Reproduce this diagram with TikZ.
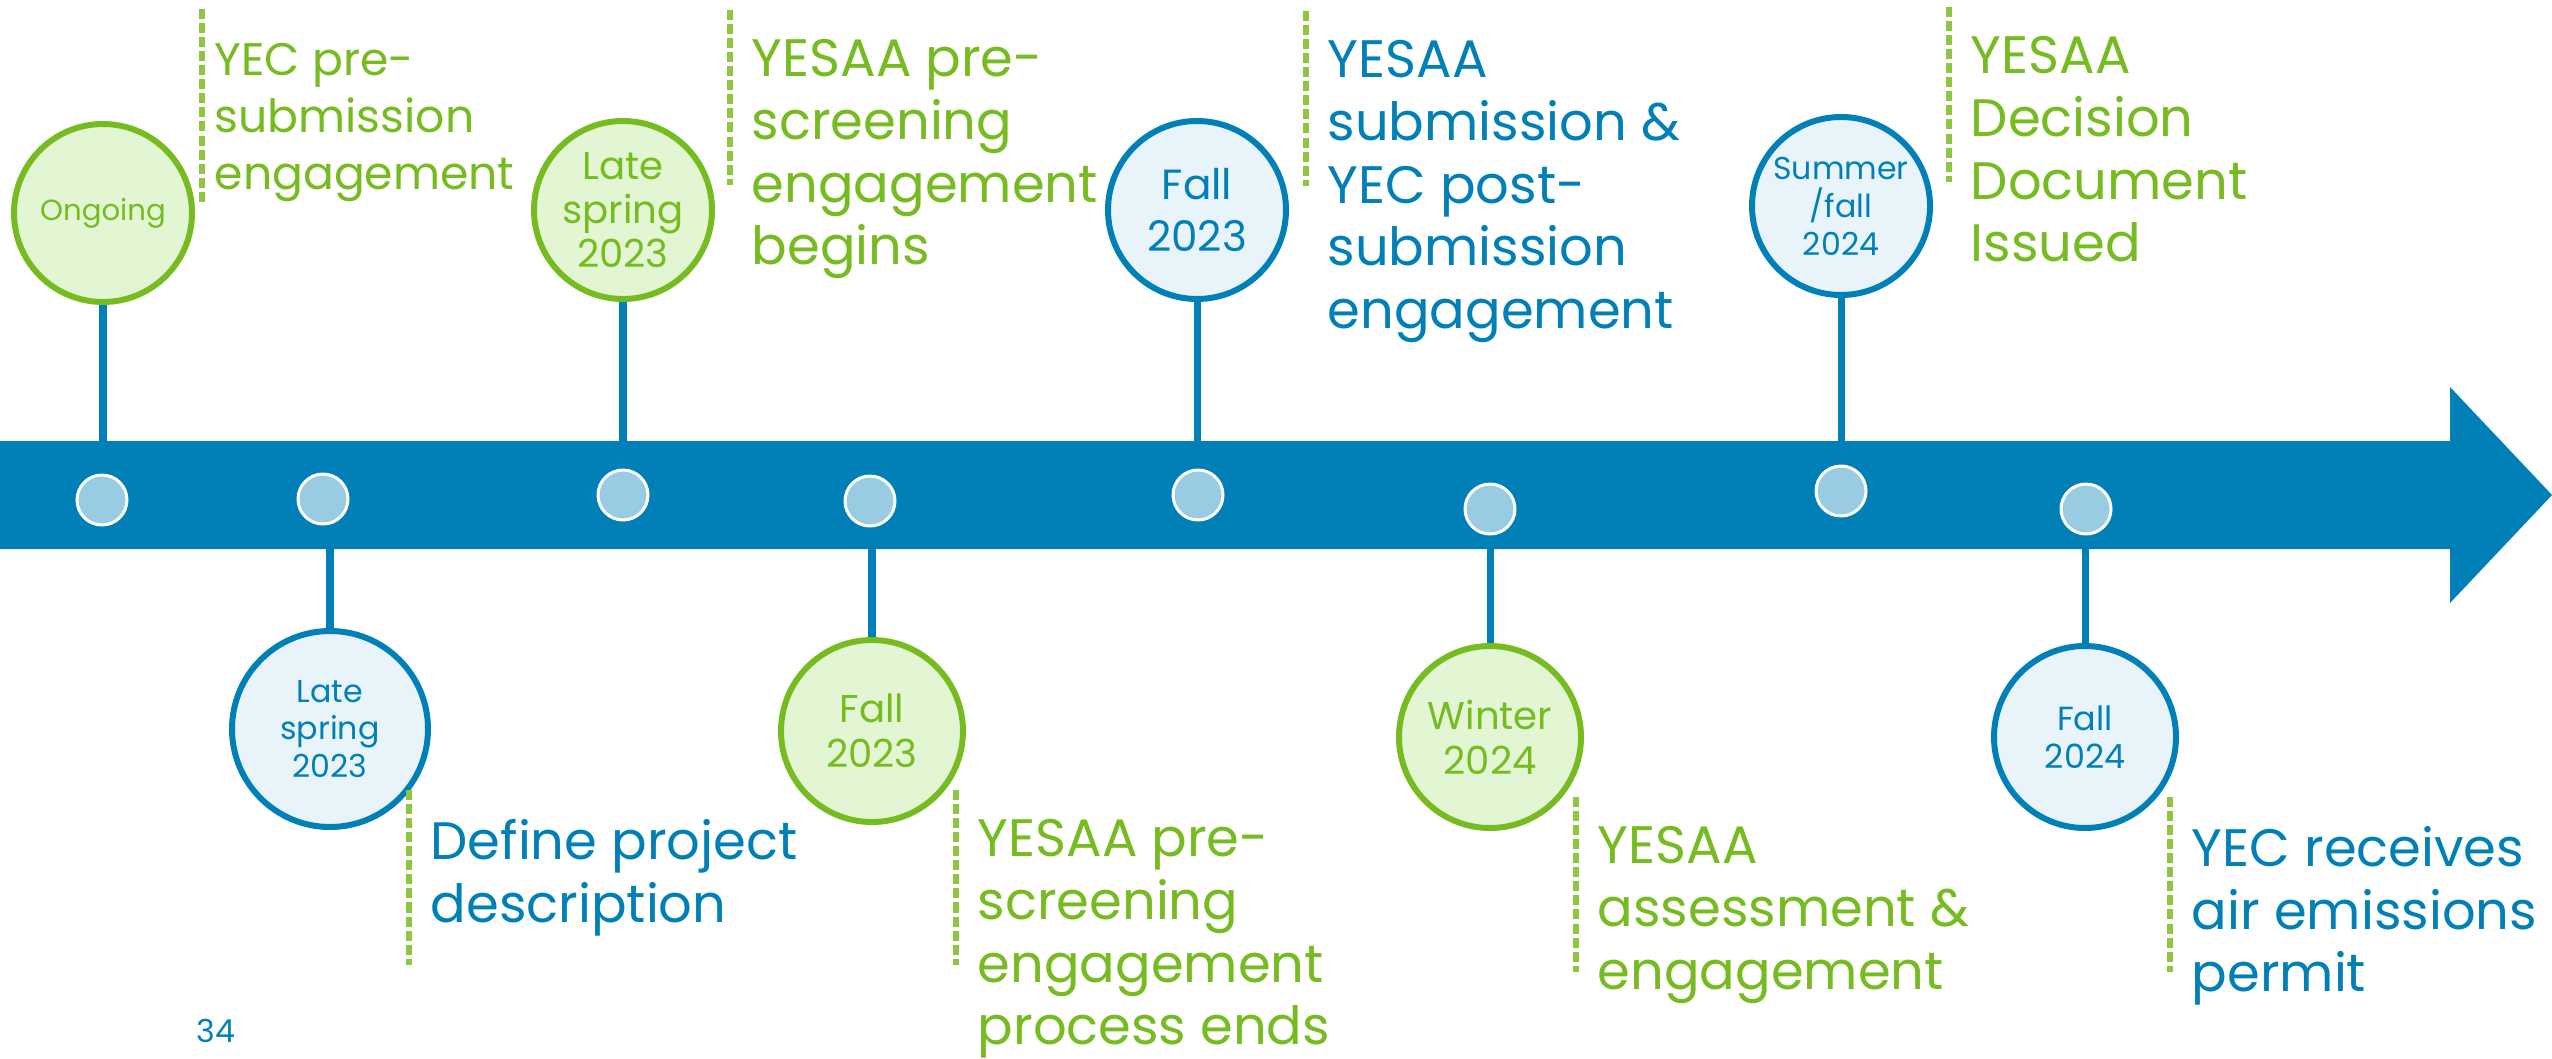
\documentclass[tikz,border=0pt]{standalone}
\usepackage{fontspec}
\setmainfont{Poppins}
\usepackage{tikz}
\usetikzlibrary{calc}
\definecolor{tlblue}{HTML}{0080B7}
\definecolor{tlgreen}{HTML}{76BC21}
\definecolor{dashgreen}{HTML}{8DC63F}
\definecolor{bluefill}{HTML}{E8F4FA}
\definecolor{greenfill}{HTML}{E3F6D3}
\definecolor{dotfill}{HTML}{99CCE2}
\newcommand{\fs}[2]{\fontsize{#1}{#2}\selectfont}
\tikzset{
  gdate/.style={circle, draw=tlgreen, fill=greenfill, text=tlgreen, line width=1.7pt, minimum size=1.78cm, inner sep=0pt, align=center},
  bdate/.style={circle, draw=tlblue, fill=bluefill, text=tlblue, line width=1.7pt, minimum size=1.78cm, inner sep=0pt, align=center},
  dot/.style={circle, draw=white, fill=dotfill, line width=0.85pt, minimum size=0.5cm, inner sep=0pt},
  stem/.style={draw=tlblue, line width=2pt},
  glab/.style={anchor=north west, inner sep=0pt, align=left, text=tlgreen, font=\fs{15}{17.8}},
  blab/.style={anchor=north west, inner sep=0pt, align=left, text=tlblue, font=\fs{15}{17.8}},
  dashln/.style={draw=dashgreen, line width=1.7pt, dash pattern=on 2.85pt off 1.15pt}
}

\begin{document}
\begin{tikzpicture}
    \useasboundingbox (0,0) rectangle (25.52,10.58);
    % the arrow
    \fill[tlblue] (0,5.09) -- (24.50,5.09) -- (24.50,4.55) -- (25.52,5.63)
      -- (24.50,6.71) -- (24.50,6.17) -- (0,6.17) -- cycle;
    \coordinate (btop) at (0,6.17);
    \coordinate (bbot) at (0,5.09);
    % dates above
    \node[gdate, font=\fs{8.3}{10}] (ong) at (1.03,8.45) {Ongoing};
    \node[gdate, font=\fs{11}{12.5}] (lsa) at (6.23,8.48) {Late\\spring\\2023};
    \node[bdate, font=\fs{12}{14.8}] (fla) at (11.97,8.48) {Fall\\2023};
    \node[bdate, font=\fs{9}{10.8}] (sfa) at (18.41,8.52) {Summer\\/fall\\2024};
    % dates below
    \node[bdate, font=\fs{9}{10.8}, minimum size=1.96cm] (lsb) at (3.30,3.29) {Late\\spring\\2023};
    \node[gdate, font=\fs{11}{12.8}, minimum size=1.82cm] (flb) at (8.72,3.27) {Fall\\2023};
    \node[gdate, font=\fs{11}{12.8}, minimum size=1.82cm] (wib) at (14.90,3.21) {Winter\\2024};
    \node[bdate, font=\fs{9.5}{10.8}, minimum size=1.82cm] (fab) at (20.85,3.21) {Fall\\2024};
    % stems
    \draw[stem] (ong) -- (ong |- btop);
    \draw[stem] (lsa) -- (lsa |- btop);
    \draw[stem] (fla) -- (fla |- btop);
    \draw[stem] (sfa) -- (sfa |- btop);
    \draw[stem] (lsb) -- (lsb |- bbot);
    \draw[stem] (flb) -- (flb |- bbot);
    \draw[stem] (wib) -- (wib |- bbot);
    \draw[stem] (fab) -- (fab |- bbot);
    % dots on the arrow
    \node[dot] (d1) at (1.02,5.58) {};
    \node[dot] (d2) at (3.23,5.59) {};
    \node[dot] (d3) at (6.23,5.63) {};
    \node[dot] (d4) at (8.70,5.57) {};
    \node[dot] (d5) at (11.98,5.63) {};
    \node[dot] (d6) at (14.90,5.49) {};
    \node[dot] (d7) at (18.41,5.67) {};
    \node[dot] (d8) at (20.86,5.49) {};
    % labels above
    \node[glab, font=\fs{13}{16.2}] (t1) at (2.14,10.15) {YEC pre-\\submission\\engagement};
    \node[glab] (t2) at (7.51,10.19) {YESAA pre-\\screening\\engagement\\begins};
    \node[blab] (t3) at (13.27,10.18) {YESAA\\submission \&\\YEC post-\\submission\\engagement};
    \node[glab] (t4) at (19.70,10.22) {YESAA\\Decision\\Document\\Issued};
    % labels below
    \node[blab] (t5) at (4.30,2.39) {Define project\\description};
    \node[glab] (t6) at (9.77,2.39) {YESAA pre-\\screening\\engagement\\process ends};
    \node[glab] (t7) at (15.97,2.32) {YESAA\\assessment \&\\engagement};
    \node[blab] (t8) at (21.91,2.32) {YEC receives\\air emissions\\permit};
    % dashed marks
    \draw[dashln] ([shift={(-0.12,0.34)}]t1.north west) -- ++(0,-1.93);
    \foreach \t in {t2,t3,t4,t5,t6,t7,t8}
      \draw[dashln] ([shift={(-0.21,0.29)}]\t.north west) -- ++(0,-1.75);
    % page number
    \node[anchor=base west, inner sep=0pt, text=tlblue, font=\fs{9}{11}] (pg) at (1.96,0.16) {34};
\end{tikzpicture}
\end{document}
